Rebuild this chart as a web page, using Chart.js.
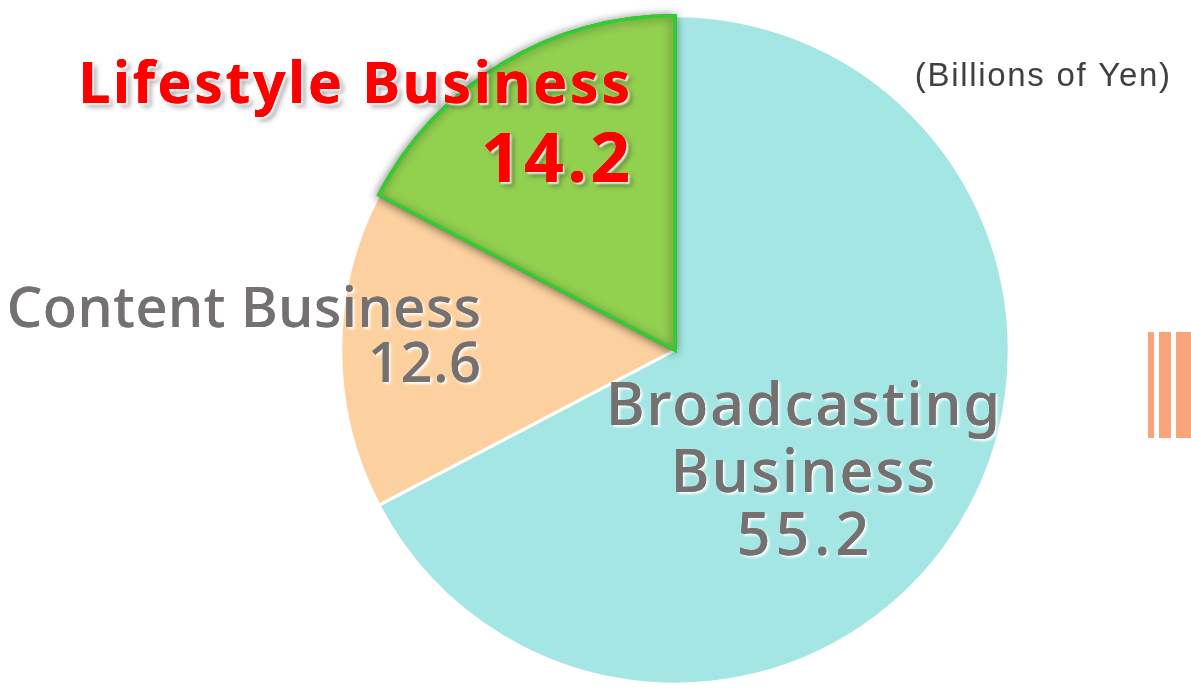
<!DOCTYPE html>
<html>
<head>
<meta charset="utf-8">
<title>Segment sales</title>
<script src="https://cdn.jsdelivr.net/npm/chart.js@4"></script>
<style>
  html, body { margin: 0; padding: 0; background: #fff; }
  #wrap { width: 1191px; height: 692px; }
</style>
</head>
<body>
<div id="wrap"><canvas id="pie" width="1191" height="692"></canvas></div>
<script>
// Data (billions of yen), clockwise from 12 o'clock
const categories = ['Broadcasting Business', 'Content Business', 'Lifestyle Business'];
const values = [55.2, 12.6, 14.2];
const sliceColors = ['#a3e6e4', '#fcd19f', '#92d050'];
const unitLabel = '(Billions of Yen)';

const FONT = "'Noto Sans', 'Open Sans', sans-serif";

// draws a text line with a soft glow / drop shadow
function glowText(ctx, text, x, y, opts) {
  ctx.save();
  ctx.font = opts.font;
  ctx.letterSpacing = (opts.spacing || 0) + 'px';
  ctx.textAlign = opts.align || 'left';
  ctx.textBaseline = 'alphabetic';
  // letterSpacing adds a trailing gap, compensate for right/center aligned text
  const sp = opts.spacing || 0;
  if (opts.align === 'right') x += sp;
  if (opts.align === 'center') x += sp / 2;
  (opts.shadows || []).forEach(s => {
    ctx.shadowColor = s.color;
    ctx.shadowBlur = s.blur;
    ctx.shadowOffsetX = s.dx;
    ctx.shadowOffsetY = s.dy;
    ctx.fillStyle = opts.color;
    ctx.fillText(text, x, y);
  });
  ctx.shadowColor = 'transparent';
  ctx.fillStyle = opts.color;
  ctx.fillText(text, x, y);
  ctx.restore();
}

// highlight the lifestyle slice with a shadow around it
const sliceShadow = {
  id: 'sliceShadow',
  afterDatasetsDraw(chart) {
    const arc = chart.getDatasetMeta(0).data[2];
    const ctx = chart.ctx;
    ctx.save();
    ctx.shadowColor = 'rgba(0,0,0,0.45)';
    ctx.shadowBlur = 10;
    ctx.shadowOffsetX = -1;
    ctx.shadowOffsetY = 1;
    arc.draw(ctx);
    ctx.restore();
  }
};

// segment names and values
const sliceLabels = {
  id: 'sliceLabels',
  afterDraw(chart) {
    const ctx = chart.ctx;
    const whiteGlow = [{ color: 'rgba(255,255,255,1)', blur: 3, dx: 2, dy: 2 }];
    const redShadow = [
      { color: 'rgba(0,0,0,0.35)', blur: 5, dx: 4, dy: 4 },
      { color: 'rgba(255,255,255,0.9)', blur: 2, dx: 2, dy: 2 }
    ];

    // Broadcasting
    const b = { font: `500 59px ${FONT}`, color: '#767171', shadows: whiteGlow, align: 'center', spacing: 2 };
    glowText(ctx, 'Broadcasting', 803, 425, b);
    glowText(ctx, 'Business', 803, 492, { ...b, spacing: 2.3 });
    glowText(ctx, values[0].toFixed(1), 803, 555, { ...b, spacing: 5 });

    // Content
    const c = { font: `500 56px ${FONT}`, color: '#767171', shadows: whiteGlow, align: 'right', spacing: 0.6 };
    glowText(ctx, categories[1], 481, 327, c);
    glowText(ctx, values[1].toFixed(1), 481, 382, c);

    // Lifestyle
    glowText(ctx, categories[2], 630, 103,
      { font: `bold 57px ${FONT}`, color: '#ff0000', shadows: redShadow, align: 'right', spacing: 2.7 });
    glowText(ctx, values[2].toFixed(1), 630, 182,
      { font: `bold 69px ${FONT}`, color: '#ff0000', shadows: redShadow, align: 'right', spacing: 3.7 });

    // unit
    glowText(ctx, unitLabel, 1170, 86,
      { font: "33px 'Liberation Sans', Arial, sans-serif", color: '#404040', align: 'right', spacing: 1.7 });

    // slide decoration stripes on the right edge
    ctx.save();
    ctx.fillStyle = '#f9a57b';
    ctx.fillRect(1148, 332, 6, 106);
    ctx.fillRect(1159, 332, 12, 106);
    ctx.fillRect(1176, 332, 15, 106);
    ctx.restore();
  }
};

new Chart(document.getElementById('pie'), {
  type: 'pie',
  data: {
    labels: categories,
    datasets: [{
      data: values,
      backgroundColor: sliceColors,
      borderColor: ['#ffffff', '#ffffff', '#33cc33'],
      borderWidth: [3, 3, 3.5],
      borderJoinStyle: 'miter'
    }]
  },
  options: {
    responsive: false,
    animation: false,
    layout: { padding: { top: 14, bottom: 6, left: 339, right: 180 } },
    plugins: {
      legend: { display: false },
      tooltip: { enabled: false }
    }
  },
  plugins: [sliceShadow, sliceLabels]
});
</script>
</body>
</html>
